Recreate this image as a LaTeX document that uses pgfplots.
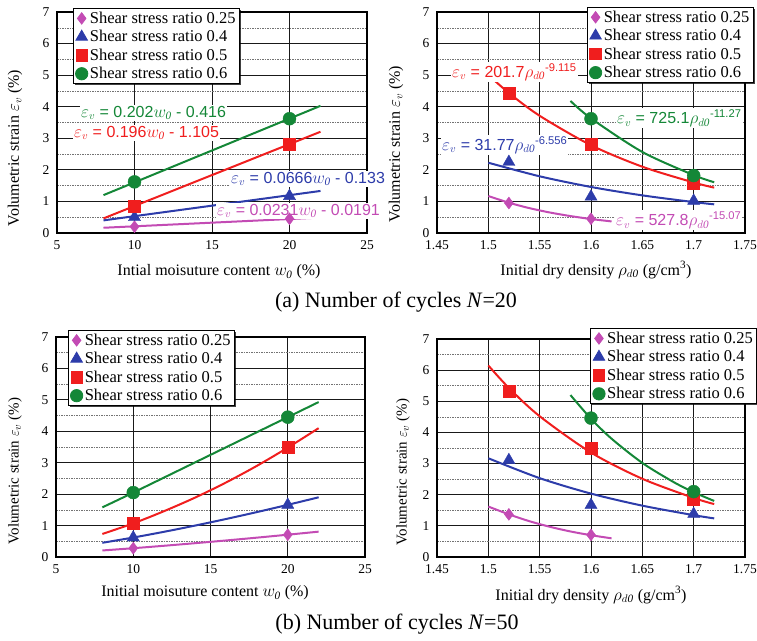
\documentclass[border=0pt]{standalone}
\usepackage{pgfplots}
\pgfplotsset{compat=1.18}
\usepackage{fontspec}
\setmainfont{Liberation Serif}
\newfontfamily\eqfont{Liberation Sans}
\usetikzlibrary{shadows}

\definecolor{cpur}{RGB}{195,75,180}
\definecolor{cblu}{RGB}{45,60,170}
\definecolor{cred}{RGB}{240,30,30}
\definecolor{cgrn}{RGB}{20,135,55}

\tikzset{eq/.style={anchor=west, fill=white, inner sep=1pt, font=\fontsize{16}{18}\selectfont\eqfont}}

\pgfplotsset{
 base/.style={scale only axis, ymin=0, ymax=7, ytick={0,1,2,3,4,5,6,7},
  minor ytick={0.5,1.5,2.5,3.5,4.5,5.5,6.5}, grid=both,
  major grid style={black!90, line width=0.9pt},
  minor grid style={black!55, line width=0.5pt, dash pattern=on 1.5pt off 1pt},
  axis line style={black, line width=1.1pt},
  major tick length=0pt, minor tick length=0pt,
  tick label style={font=\fontsize{13.5}{14}\selectfont},
  /pgf/number format/assume math mode=true,
  xticklabel style={yshift=-4pt},
  yticklabel style={xshift=-4pt},
  clip=false,
  legend cell align=left,
  legend style={font=\rmfamily\fontsize{16.5}{18}\selectfont, draw=black, fill=white, line width=0.8pt,
    inner xsep=2pt, inner ysep=1.5pt, row sep=1.5pt,
    drop shadow={shadow xshift=1.5pt, shadow yshift=-1.5pt, fill=black, opacity=0.75}},
  legend image post style={scale=0.95},
 },
 wax/.style={base, xmin=5, xmax=25, xtick={5,10,15,20,25}},
 rax/.style={base, xmin=1.45, xmax=1.75, xtick={1.45,1.5,1.55,1.6,1.65,1.7,1.75}},
 sp/.style={only marks, mark=diamond*, mark size=6, color=cpur},
 sb/.style={only marks, mark=triangle*, mark size=7, color=cblu},
 sr/.style={only marks, mark=square*, mark size=6, color=cred},
 sg/.style={only marks, mark=*, mark size=6.5, color=cgrn},
 fl/.style={no markers, line width=2pt, smooth, forget plot},
}

\begin{document}
\begin{tikzpicture}
\useasboundingbox (0pt,0pt) rectangle (757pt,-640pt);

% ---------------- (a) left ----------------
\begin{axis}[wax, at={(57pt,-233pt)}, anchor=south west, width=310pt, height=221pt,
  legend style={at={(0.052,1.018)}, anchor=north west}]
\addplot[fl, cpur] coordinates {(8,0.166) (22,0.489)};
\addplot[fl, cblu] coordinates {(8,0.400) (22,1.332)};
\addplot[fl, cred] coordinates {(8,0.463) (22,3.207)};
\addplot[fl, cgrn] coordinates {(8,1.200) (22,4.028)};
\addplot[sp] coordinates {(10,0.20) (20,0.45)};
\addplot[sb] coordinates {(10,0.50) (20,1.17)};
\addplot[sr] coordinates {(10,0.85) (20,2.80)};
\addplot[sg] coordinates {(10,1.62) (20,3.62)};
\legend{Shear stress ratio 0.25, Shear stress ratio 0.4, Shear stress ratio 0.5, Shear stress ratio 0.6}
\node[eq, text=cgrn] at (axis cs:6.48,3.80) {$\varepsilon_v$ = 0.202$w_{\mathit{0}}$ - 0.416};
\node[eq, text=cred] at (axis cs:6.03,3.17) {$\varepsilon_v$ = 0.196$w_{\mathit{0}}$ - 1.105};
\node[eq, text=cblu] at (axis cs:16.16,1.71) {$\varepsilon_v$ = 0.0666$w_{\mathit{0}}$ - 0.133};
\node[eq, text=cpur] at (axis cs:15.26,0.70) {$\varepsilon_v$ = 0.0231$w_{\mathit{0}}$ - 0.0191};
\end{axis}

% ---------------- (a) right ----------------
\begin{axis}[rax, at={(437pt,-233pt)}, anchor=south west, width=308pt, height=221pt,
  legend style={at={(0.487,1.023)}, anchor=north west}]
\addplot[fl, cpur] coordinates {(1.50,1.172) (1.52,0.960) (1.54,0.788) (1.56,0.649) (1.58,0.536) (1.60,0.443) (1.62,0.367)};
\addplot[fl, cblu] coordinates {(1.50,2.226) (1.55,1.796) (1.60,1.458) (1.65,1.192) (1.70,0.980) (1.72,0.908)};
\addplot[fl, cred] coordinates {(1.50,5.008) (1.52,4.436) (1.55,3.713) (1.60,2.781) (1.65,2.100) (1.70,1.600) (1.72,1.438)};
\addplot[fl, cgrn] coordinates {(1.58,4.183) (1.60,3.631) (1.65,2.567) (1.70,1.834) (1.72,1.608)};
\addplot[sp] coordinates {(1.52,0.95) (1.60,0.45)};
\addplot[sb] coordinates {(1.52,2.25) (1.60,1.15) (1.70,1.02)};
\addplot[sr] coordinates {(1.52,4.42) (1.60,2.80) (1.70,1.57)};
\addplot[sg] coordinates {(1.60,3.62) (1.70,1.82)};
\legend{Shear stress ratio 0.25, Shear stress ratio 0.4, Shear stress ratio 0.5, Shear stress ratio 0.6}
\node[eq, text=cred] at (axis cs:1.4636,5.10) {$\varepsilon_v$ = 201.7$\rho_{d\mathit{0}}$\textsuperscript{-9.115}};
\node[eq, text=cgrn] at (axis cs:1.6243,3.64) {$\varepsilon_v$ = 725.1$\rho_{d\mathit{0}}$\textsuperscript{-11.27}};
\node[eq, text=cblu] at (axis cs:1.4539,2.79) {$\varepsilon_v$ = 31.77$\rho_{d\mathit{0}}$\textsuperscript{-6.556}};
\node[eq, text=cpur] at (axis cs:1.6234,0.41) {$\varepsilon_v$ = 527.8$\rho_{d\mathit{0}}$\textsuperscript{-15.07}};
\end{axis}

% ---------------- (b) left ----------------
\begin{axis}[wax, at={(56pt,-557pt)}, anchor=south west, width=309pt, height=220pt,
  legend style={at={(0.039,1.032)}, anchor=north west}]
\addplot[fl, cpur] coordinates {(8,0.208) (10,0.28) (12,0.358) (14,0.440) (16,0.526) (18,0.616) (20,0.71) (22,0.807)};
\addplot[fl, cblu] coordinates {(8,0.452) (10,0.62) (12,0.803) (14,1.00) (16,1.209) (18,1.429) (20,1.66) (22,1.90)};
\addplot[fl, cred] coordinates {(8,0.734) (10,1.07) (12,1.46) (14,1.89) (16,2.37) (18,2.90) (20,3.48) (22,4.10)};
\addplot[fl, cgrn] coordinates {(8,1.58) (10,2.05) (15,3.25) (20,4.45) (22,4.93)};
\addplot[sp] coordinates {(10,0.28) (20,0.71)};
\addplot[sb] coordinates {(10,0.62) (20,1.66)};
\addplot[sr] coordinates {(10,1.07) (20,3.48)};
\addplot[sg] coordinates {(10,2.05) (20,4.45)};
\legend{Shear stress ratio 0.25, Shear stress ratio 0.4, Shear stress ratio 0.5, Shear stress ratio 0.6}
\end{axis}

% ---------------- (b) right ----------------
\begin{axis}[rax, at={(437pt,-557pt)}, anchor=south west, width=308pt, height=218pt,
  legend style={at={(0.498,1.05)}, anchor=north west}]
\addplot[fl, cpur] coordinates {(1.50,1.62) (1.52,1.37) (1.54,1.15) (1.56,0.97) (1.58,0.82) (1.60,0.70) (1.62,0.60)};
\addplot[fl, cblu] coordinates {(1.50,3.17) (1.55,2.532) (1.60,2.036) (1.65,1.649) (1.70,1.344) (1.72,1.24)};
\addplot[fl, cred] coordinates {(1.50,6.15) (1.52,5.43) (1.55,4.52) (1.60,3.354) (1.65,2.512) (1.70,1.897) (1.72,1.70)};
\addplot[fl, cgrn] coordinates {(1.58,5.20) (1.60,4.44) (1.62,3.80) (1.65,3.02) (1.68,2.415) (1.70,2.08) (1.72,1.80)};
\addplot[sp] coordinates {(1.52,1.37) (1.60,0.71)};
\addplot[sb] coordinates {(1.52,3.11) (1.60,1.67) (1.70,1.38)};
\addplot[sr] coordinates {(1.52,5.33) (1.60,3.48) (1.70,1.86)};
\addplot[sg] coordinates {(1.60,4.46) (1.70,2.10)};
\legend{Shear stress ratio 0.25, Shear stress ratio 0.4, Shear stress ratio 0.5, Shear stress ratio 0.6}
\end{axis}

% ---------------- labels ----------------
\begin{scope}[every node/.style={font=\fontsize{16}{18}\selectfont}]
\node at (219pt,-272pt) {Intial moisuture content $w_{\mathit{0}}$ (\%)};
\node at (596pt,-270pt) {Initial dry density $\rho_{d\mathit{0}}$ (g/cm\textsuperscript{3})};
\node at (205pt,-593pt) {Initial moisuture content $w_{\mathit{0}}$ (\%)};
\node at (591pt,-595pt) {Initial dry density $\rho_{d\mathit{0}}$ (g/cm\textsuperscript{3})};
\node[rotate=90] at (15pt,-148pt) {Volumetric strain $\varepsilon_v$ (\%)};
\node[rotate=90] at (396pt,-144pt) {Volumetric strain $\varepsilon_v$ (\%)};
\end{scope}
\node[rotate=90, font=\fontsize{15}{17}\selectfont] at (15pt,-471pt) {Volumetric strain $\varepsilon_v$ (\%)};
\node[rotate=90, font=\fontsize{15}{17}\selectfont] at (403pt,-472pt) {Volumetric strain $\varepsilon_v$ (\%)};
\node[font=\fontsize{22}{24}\selectfont] at (396pt,-302pt) {(a) Number of cycles \textit{N}=20};
\node[font=\fontsize{22}{24}\selectfont] at (397pt,-624pt) {(b) Number of cycles \textit{N}=50};
\end{tikzpicture}
\end{document}
